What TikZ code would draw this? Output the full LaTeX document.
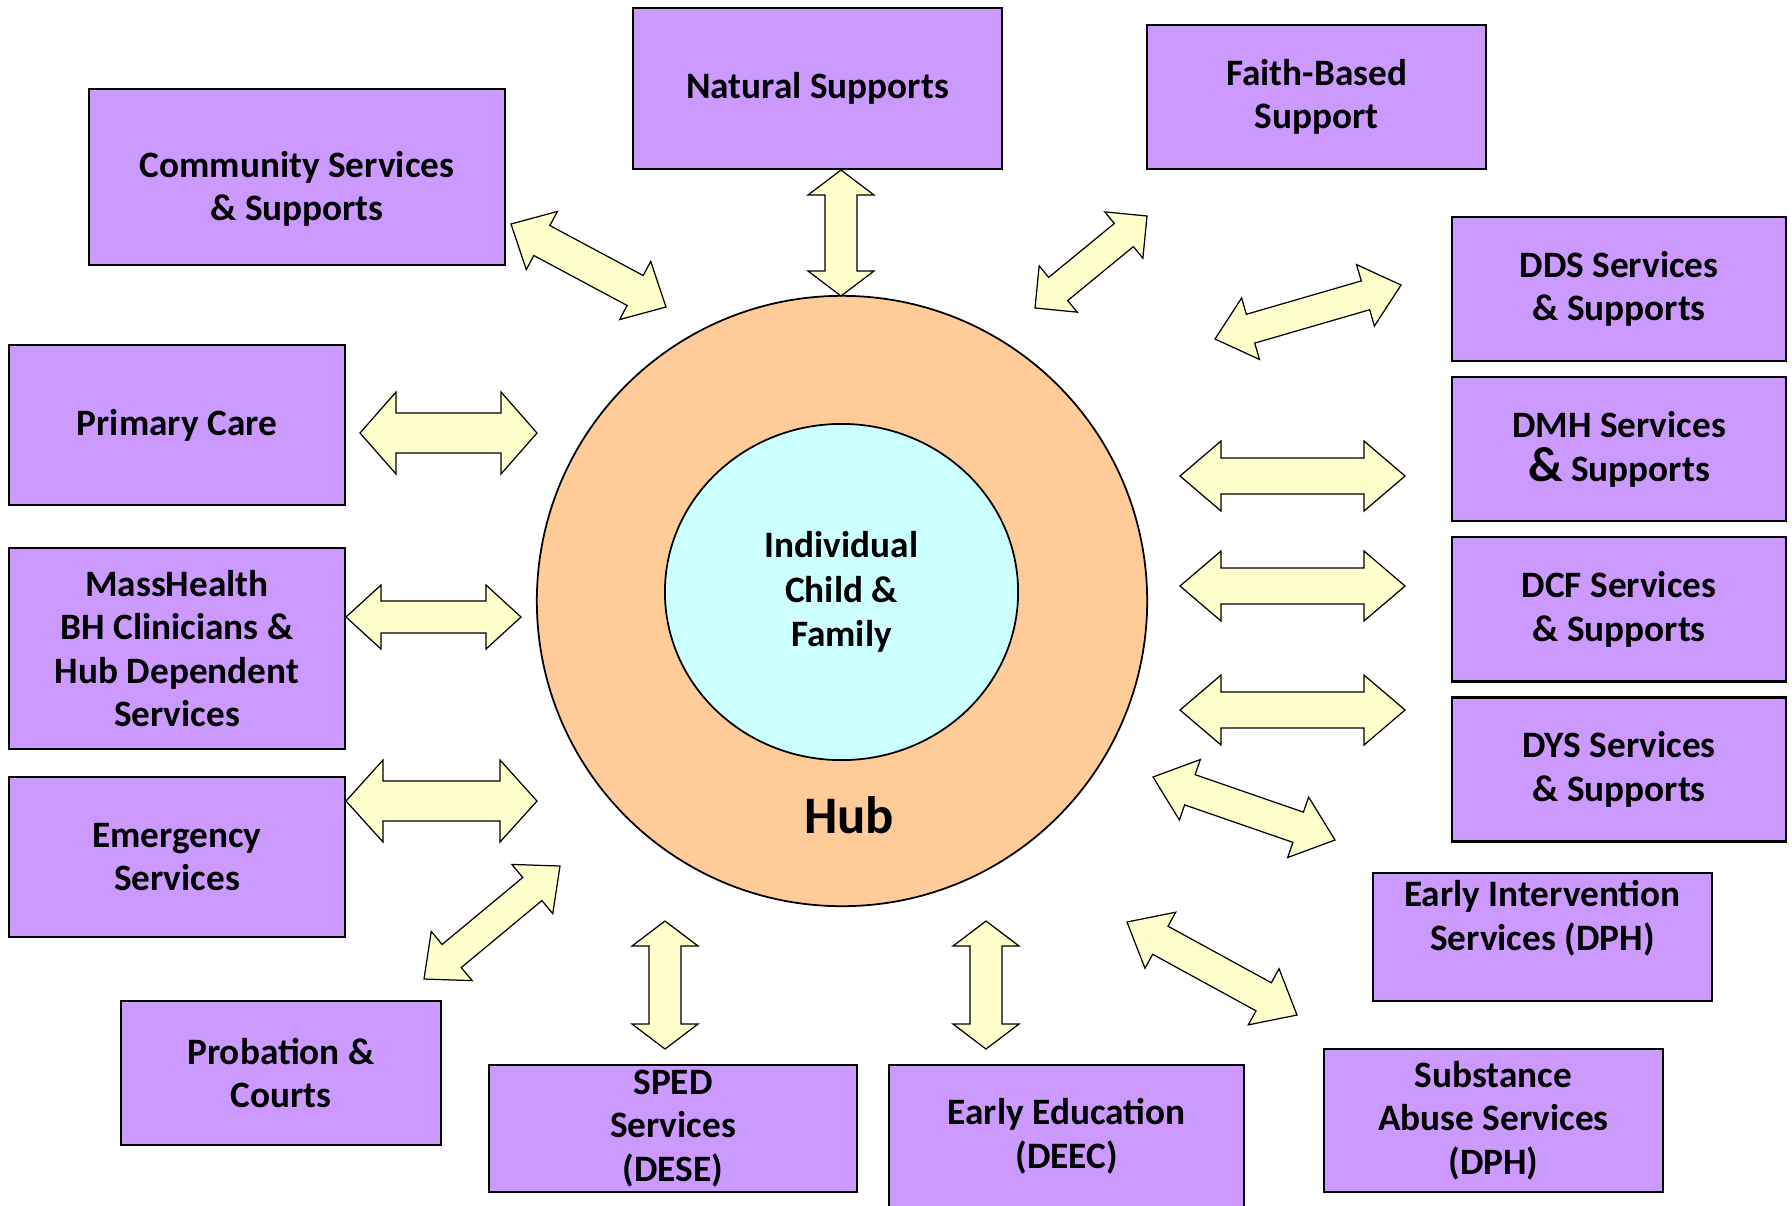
\documentclass[tikz,border=0pt]{standalone}
\usepackage{fontspec}
\setmainfont{Carlito}
\usepackage{tikz}
\usetikzlibrary{calc,positioning,shapes.geometric}

\definecolor{boxpurple}{HTML}{CC99FF}
\definecolor{hubpeach}{HTML}{FFCC99}
\definecolor{corecyan}{HTML}{CCFFFF}
\definecolor{linkyellow}{HTML}{FFFFCC}

\begin{document}
\begin{tikzpicture}[x=0.01cm,y=0.01cm,node distance=1.6cm,
    service/.style={rectangle,draw,fill=boxpurple,line width=0.75pt,inner sep=0pt,align=center,font=\bfseries\fontsize{10.6}{12.4}\selectfont},
    dims/.style 2 args={minimum width=#1,minimum height=#2},
    shaftw/.store in=\shaftw,headw/.store in=\headw,headl/.store in=\headl,
    shaftw=16,headw=33,headl=36,
    link/.style={draw,fill=linkyellow,line width=0.35pt,
      to path={let \p1=(\tikztostart), \p2=(\tikztotarget), \n1={atan2(\y2-\y1,\x2-\x1)} in
        (\p1) -- ($(\p1)+(\n1:\headl)+(\n1+90:\headw)$) -- ($(\p1)+(\n1:\headl)+(\n1+90:\shaftw)$)
        -- ($(\p2)+(\n1+180:\headl)+(\n1+90:\shaftw)$) -- ($(\p2)+(\n1+180:\headl)+(\n1+90:\headw)$)
        -- (\p2) -- ($(\p2)+(\n1+180:\headl)+(\n1-90:\headw)$) -- ($(\p2)+(\n1+180:\headl)+(\n1-90:\shaftw)$)
        -- ($(\p1)+(\n1:\headl)+(\n1-90:\shaftw)$) -- ($(\p1)+(\n1:\headl)+(\n1-90:\headw)$) -- cycle}}]
    \useasboundingbox (0,0) rectangle (1792,-1205);

    % hub in the middle
    \node[circle,draw,fill=hubpeach,line width=0.5pt,minimum size=6.1cm] (hub) at (842,-601) {};
    \node[ellipse,draw,fill=corecyan,line width=0.5pt,inner sep=0pt,minimum width=3.53cm,minimum height=3.36cm,
      align=center,font=\bfseries\fontsize{10.6}{12.6}\selectfont] (core) at (841.5,-592) {Individual\\Child \&\\Family};
    \node[anchor=base,font=\bfseries\fontsize{15}{17}\selectfont] (hubname) at (849,-833) {Hub};

    % services round the hub
    \node[service,dims={4.16cm}{1.76cm},text height=26.5pt] (comm) at (297,-177) {Community Services\\\& Supports};
    \node[service,dims={3.69cm}{1.61cm}] (natural) at (817.5,-88.5) {Natural Supports};
    \node[service,dims={3.39cm}{1.44cm}] (faith) at (1316.5,-97) {Faith-Based\\Support};
    \node[service,dims={3.34cm}{1.44cm}] (dds) at (1619,-289) {DDS Services\\\& Supports};
    \node[service,dims={3.34cm}{1.44cm}] (dmh) [below of=dds] {DMH Services\\{\fontsize{14}{12.4}\selectfont\&} Supports};
    \node[service,dims={3.34cm}{1.44cm}] (dcf) [below of=dmh] {DCF Services\\\& Supports};
    \node[service,dims={3.34cm}{1.44cm}] (dys) [below of=dcf] {DYS Services\\\& Supports};
    \node[service,dims={3.39cm}{1.28cm}] (ei) at (1542.5,-937) {Early Intervention\\Services (DPH)\\\mbox{}};
    \node[service,dims={3.39cm}{1.43cm}] (abuse) at (1493.5,-1120.5) {Substance\\Abuse Services\\(DPH)};
    \node[service,dims={3.55cm}{1.42cm}] (edu) at (1066.5,-1136) {Early Education\\(DEEC)};
    \node[service,dims={3.68cm}{1.27cm}] (sped) at (673,-1128.5) {SPED\\Services\\(DESE)};
    \node[service,dims={3.20cm}{1.44cm}] (prob) at (281,-1073) {Probation \&\\Courts};
    \node[service,dims={3.36cm}{1.60cm}] (emerg) at (177,-857) {Emergency\\Services};
    \node[service,dims={3.36cm}{2.01cm}] (mass) at (177,-648.5) {MassHealth\\BH Clinicians \&\\Hub Dependent\\Services};
    \node[service,dims={3.36cm}{1.60cm}] (primary) at (177,-425) {Primary Care};

    % arrow ends
    \coordinate (comm1) at (511,-224);  \coordinate (comm2) at (666,-307);
    \coordinate (nat1) at (841,-170);   \coordinate (nat2) at (841,-296);
    \coordinate (faith1) at (1147,-216); \coordinate (faith2) at (1035,-308);
    \coordinate (dds1) at (1401,-285);  \coordinate (dds2) at (1215,-339);
    \coordinate (dmh1) at (1180,-476);  \coordinate (dmh2) at (1405,-476);
    \coordinate (dcf1) at (1180,-586);  \coordinate (dcf2) at (1405,-586);
    \coordinate (dys1) at (1180,-710);  \coordinate (dys2) at (1405,-710);
    \coordinate (ei1) at (1153,-777);   \coordinate (ei2) at (1335,-840);
    \coordinate (abuse1) at (1127,-922); \coordinate (abuse2) at (1297,-1015);
    \coordinate (edu1) at (986,-921);   \coordinate (edu2) at (986,-1049);
    \coordinate (sped1) at (665,-921);  \coordinate (sped2) at (665,-1049);
    \coordinate (prob1) at (560,-866);  \coordinate (prob2) at (424,-979);
    \coordinate (em1) at (346,-801);    \coordinate (em2) at (537,-801);
    \coordinate (mass1) at (346,-617);  \coordinate (mass2) at (521,-617);
    \coordinate (pc1) at (360,-433);    \coordinate (pc2) at (537,-433);

    \path[every edge/.append style={link}]
    (comm1) edge[shaftw=17,headl=35] (comm2)
    (nat1) edge[headl=25] (nat2)
    (faith1) edge[shaftw=15,headw=30,headl=30] (faith2)
    (dds1) edge[shaftw=15,headw=32,headl=37] (dds2)
    (dmh1) edge[shaftw=18,headw=35,headl=41] (dmh2)
    (dcf1) edge[shaftw=18,headw=35,headl=41] (dcf2)
    (dys1) edge[shaftw=18,headw=35,headl=41] (dys2)
    (ei1) edge[headw=32,headl=39] (ei2)
    (abuse1) edge[headw=32,headl=38] (abuse2)
    (edu1) edge[headl=25] (edu2)
    (sped1) edge[headl=25] (sped2)
    (prob1) edge[shaftw=15,headw=32] (prob2)
    (em1) edge[shaftw=20,headw=41,headl=37] (em2)
    (mass1) edge[headw=32,headl=35] (mass2)
    (pc1) edge[shaftw=20,headw=41] (pc2);
\end{tikzpicture}
\end{document}
